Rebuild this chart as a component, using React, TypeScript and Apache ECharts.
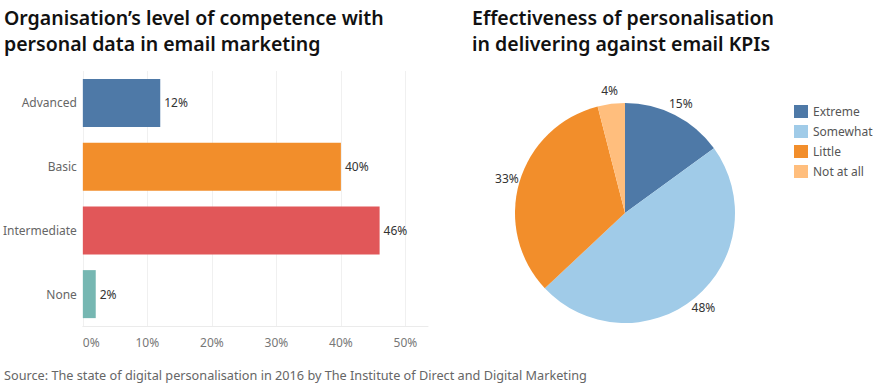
import React, { useEffect, useRef } from "react";
import * as echarts from "echarts";

const barCategories = ["Advanced", "Basic", "Intermediate", "None"];
const barValues = [12, 40, 46, 2];
const barColors = ["#4e79a7", "#f28e2b", "#e15759", "#76b7b2"];

const pieNames = ["Extreme", "Somewhat", "Little", "Not at all"];
const pieValues = [15, 48, 33, 4];
const pieColors = ["#4e79a7", "#a0cbe8", "#f28e2b", "#ffbe7d"];

const leftTitle = "Organisation’s level of competence with\npersonal data in email marketing";
const rightTitle = "Effectiveness of personalisation\nin delivering against email KPIs";
const sourceText =
  "Source: The state of digital personalisation in 2016 by The Institute of Direct and Digital Marketing";

const FONT = "'Noto Sans', sans-serif";

export default function App() {
  const ref = useRef<HTMLDivElement>(null);
  useEffect(() => {
    document.body.style.margin = "0";
    const chart = echarts.init(ref.current!, null, { renderer: "svg" });
    const titleStyle = { fontSize: 19.5, fontWeight: 600, lineHeight: 26, color: "#111", fontFamily: FONT };
    chart.setOption({
      animation: false,
      textStyle: { fontFamily: FONT },
      title: [
        { text: leftTitle, left: 4, top: 4, padding: 0, textStyle: titleStyle },
        { text: rightTitle, left: 472, top: 4, padding: 0, textStyle: titleStyle },
        {
          text: sourceText,
          left: 4,
          top: 367,
          padding: 0,
          textStyle: { fontSize: 12.7, fontWeight: "normal", color: "#666", fontFamily: FONT, lineHeight: 15 },
        },
      ],
      grid: { left: 81, top: 71, width: 347, height: 255, containLabel: false },
      xAxis: {
        type: "value",
        min: 0,
        max: 53.5,
        interval: 10,
        axisLine: { show: true, lineStyle: { color: "#ebebeb", width: 1 } },
        axisTick: { show: false },
        splitLine: { show: true, showMaxLine: false, lineStyle: { color: "#f0f0f0", width: 1 } },
        axisLabel: {
          color: "#777",
          fontSize: 12,
          margin: 10,
          alignMinLabel: "left",
          formatter: (v: number) => (v % 10 === 0 ? v + "%" : ""),
        },
      },
      yAxis: {
        type: "category",
        inverse: true,
        data: barCategories,
        axisLine: { show: false },
        axisTick: { show: false },
        axisLabel: { color: "#666", fontSize: 12, margin: 6 },
      },
      legend: {
        orient: "vertical",
        left: 794,
        top: 105,
        padding: 0,
        itemWidth: 14,
        itemHeight: 13,
        itemGap: 7,
        icon: "rect",
        data: pieNames.map((n, i) => ({ name: n, itemStyle: { color: pieColors[i] } })),
        textStyle: { color: "#555", fontSize: 12 },
      },
      series: [
        {
          type: "bar",
          data: barValues.map((v, i) => ({ value: v, itemStyle: { color: barColors[i] } })),
          barWidth: 48,
          label: {
            show: true,
            position: "right",
            distance: 4,
            formatter: "{c}%",
            color: "#333",
            fontSize: 12,
          },
        },
        {
          type: "pie",
          center: [625, 213],
          radius: 110,
          startAngle: 90,
          clockwise: true,
          data: pieNames.map((n, i) => ({ name: n, value: pieValues[i], itemStyle: { color: pieColors[i] } })),
          itemStyle: { borderWidth: 0 },
          label: { show: false },
          labelLine: { show: false },
        },
        {
          type: "pie",
          center: [625, 213],
          radius: [110, 130],
          startAngle: 90,
          clockwise: true,
          silent: true,
          legendHoverLink: false,
          data: pieNames.map((n, i) => ({ name: n, value: pieValues[i], itemStyle: { color: "rgba(0,0,0,0)" } })),
          itemStyle: { borderWidth: 0 },
          label: {
            show: true,
            position: "inside",
            formatter: "{c}%",
            color: "#333",
            fontSize: 12,
          },
          labelLine: { show: false },
        },
      ],
    });
    return () => chart.dispose();
  }, []);
  return <div ref={ref} style={{ width: 884, height: 384 }} />;
}
